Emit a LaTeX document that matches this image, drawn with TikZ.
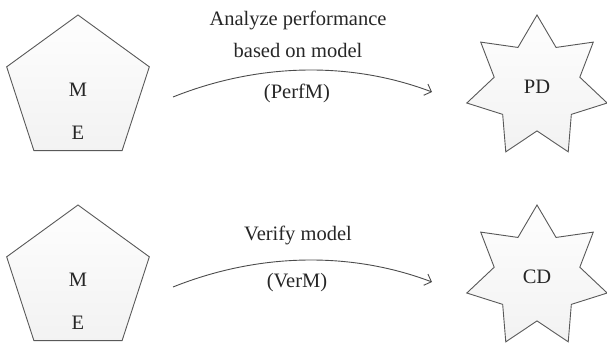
\documentclass[tikz,border=0pt]{standalone}
\usepackage{fontspec}
\setmainfont{Liberation Serif}
\usetikzlibrary{shapes.geometric,arrows.meta}

\tikzset{
  penta/.style={draw=black!65, line width=0.9pt, regular polygon, regular polygon sides=5,
    minimum size=150pt, inner sep=0pt, top color=gray!1, bottom color=gray!10},
  sevenstar/.style={draw=black!65, line width=0.9pt, star, star points=7, star point ratio=1.64,
    minimum size=144pt, inner sep=0pt, top color=gray!1, bottom color=gray!10},
  flow/.style={draw=black!70, line width=0.9pt, -{Straight Barb[length=6pt,width=12pt]}},
  txt/.style={font=\fontsize{20.5}{24}\selectfont, text=black!85}
}

\begin{document}
\begin{tikzpicture}[x=1pt, y=-1pt]
  \useasboundingbox (0,0) rectangle (607,345);
  \foreach \i/\y/\d in {1/0/PD, 2/190/CD}
  {
  \node[penta] (me\i) at (78, 90+\y) {};
  \node[txt] (m\i) at (78, 90+\y) {M};
  \node[txt] (e\i) at (78, 133+\y) {E};
  \node[sevenstar, txt] (st\i) at (537, 87+\y) {\d};
  \coordinate (s\i) at (173, 97+\y);
  \coordinate (t\i) at (432, 92+\y);
  \draw[flow] (s\i) .. controls (258, 63+\y) and (350, 61+\y) .. (t\i);
  }
  \node[txt] (perf1) at (298, 20) {Analyze performance};
  \node[txt] (perf2) at (298, 50) {based on model};
  \node[txt] (perf3) at (297, 93) {(PerfM)};
  \node[txt] (ver1) at (298, 235) {Verify model};
  \node[txt] (ver2) at (297, 283) {(VerM)};

\end{tikzpicture}
\end{document}
